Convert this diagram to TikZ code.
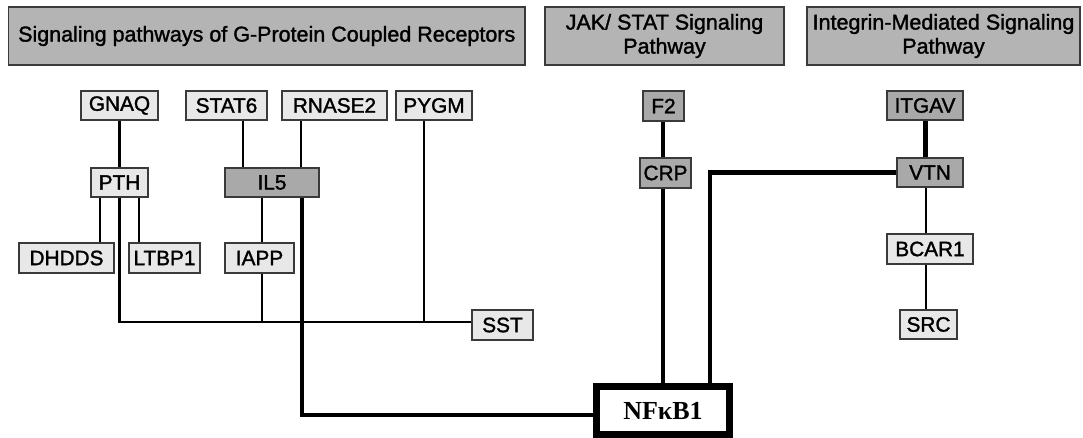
\documentclass[tikz,border=0pt]{standalone}
\usepackage{fontspec}
\setmainfont{Liberation Sans}
\newfontfamily\heavysans{Liberation Sans}[FakeBold=1.5]
\newfontfamily\serifbold{Liberation Serif}
\usetikzlibrary{backgrounds}
\definecolor{lightbox}{HTML}{E8E8E8}
\definecolor{darkbox}{HTML}{A9A9A9}
\definecolor{headfill}{HTML}{B4B4B4}
\definecolor{edgegray}{HTML}{3A3A3A}
\tikzset{
  gene/.style={draw=edgegray, line width=1.2pt, fill=lightbox, inner sep=0pt,
    minimum height=29pt, font=\heavysans\fontsize{20.8}{22}\selectfont},
  hub/.style={gene, fill=darkbox},
  header/.style={draw=edgegray, line width=1.5pt, fill=headfill, inner sep=0pt,
    minimum height=58pt, align=center, font=\heavysans\fontsize{21.5}{24}\selectfont},
  thin/.style={line width=2.2pt, black},
  thick/.style={line width=4.8pt, black},
}
\begin{document}
\begin{tikzpicture}[x=1pt, y=-1pt]
\useasboundingbox (0,0) rectangle (1083,437);

% pathway headers
\node[header, minimum width=516.5pt] (hGPCR) at (266.75,36) {Signaling pathways of G-Protein Coupled Receptors};
\node[header, minimum width=239pt] (hJAK) at (664.5,36) {JAK/ STAT Signaling\\Pathway};
\node[header, minimum width=273pt] (hINT) at (943.5,36) {Integrin-Mediated Signaling\\Pathway};

% GPCR genes
\node[gene, minimum width=77pt] (GNAQ) at (119.5,105.5) {GNAQ};
\node[gene, minimum width=81pt] (STAT6) at (226.5,105.5) {STAT6};
\node[gene, minimum width=105pt] (RNASE2) at (334.5,105.5) {RNASE2};
\node[gene, minimum width=76pt] (PYGM) at (434,105.5) {PYGM};
\node[gene, minimum width=57pt] (PTH) at (119.5,182.5) {PTH};
\node[hub, minimum width=94pt] (IL5) at (272,182.5) {IL5};
\node[gene, minimum width=95pt, minimum height=30pt] (DHDDS) at (66.5,258) {DHDDS};
\node[gene, minimum width=71pt, minimum height=30pt] (LTBP1) at (164.5,258) {LTBP1};
\node[gene, minimum width=69pt, minimum height=30pt] (IAPP) at (259.5,258) {IAPP};
\node[gene, minimum width=61pt, minimum height=30pt] (SST) at (502.5,325) {SST};

% JAK/STAT genes
\node[hub, minimum width=41pt, minimum height=30pt] (F2) at (663.5,106) {F2};
\node[hub, minimum width=51pt, minimum height=30pt] (CRP) at (665.5,173) {CRP};

% integrin genes
\node[hub, minimum width=76pt] (ITGAV) at (925,105.5) {ITGAV};
\node[hub, minimum width=66pt] (VTN) at (930,172.5) {VTN};
\node[gene, minimum width=86pt, minimum height=30pt] (BCAR1) at (930,249) {BCAR1};
\node[gene, minimum width=57pt] (SRC) at (928.5,324.5) {SRC};

% central node
\node[draw=black, line width=7pt, fill=white, inner sep=0pt,
  minimum width=133pt, minimum height=48pt,
  font=\serifbold\bfseries\fontsize{26}{28}\selectfont] (NFKB1) at (663,410.5) {NFκB1};

% columns of the vertical links
\coordinate (cDH) at (100,0);
\coordinate (cLT) at (139,0);
\coordinate (cPT) at (119.5,0);
\coordinate (cST) at (243,0);
\coordinate (cRN) at (301,0);
\coordinate (cIL) at (302,0);
\coordinate (cIA) at (262,0);
\coordinate (cPY) at (424,0);
\coordinate (cJK) at (663,0);
\coordinate (cVT) at (710,0);
\coordinate (cIN) at (925.7,0);
\coordinate (bus) at (0,322);
\coordinate (low) at (0,415);

\begin{scope}[on background layer]
  % GPCR links
  \draw[thin] (GNAQ.south -| cPT) -- (PTH.north -| cPT);
  \draw[thin] (PTH.south -| cDH) -- (DHDDS.north -| cDH);
  \draw[thin] (PTH.south -| cLT) -- (LTBP1.north -| cLT);
  \draw[thin] (PTH.south -| cPT) -- (bus -| cPT) -- (bus -| SST.west);
  \draw[thin] (STAT6.south -| cST) -- (IL5.north -| cST);
  \draw[thin] (RNASE2.south -| cRN) -- (IL5.north -| cRN);
  \draw[thin] (IL5.south -| cIA) -- (IAPP.north -| cIA);
  \draw[thin] (IAPP.south -| cIA) -- (bus -| cIA);
  \draw[thin] (PYGM.south -| cPY) -- (bus -| cPY);
  \draw[thick] (IL5.south -| cIL) -- (low -| cIL) -- (low -| NFKB1.west);
  % JAK/STAT links
  \draw[thick] (F2.south -| cJK) -- (CRP.north -| cJK);
  \draw[thick] (CRP.south -| cJK) -- (NFKB1.north -| cJK);
  % integrin links
  \draw[thick] (ITGAV.south -| cIN) -- (VTN.north -| cIN);
  \draw[thick] (VTN.west) -- (VTN.west -| cVT) -- (NFKB1.north -| cVT);
  \draw[thin] (VTN.south -| cIN) -- (BCAR1.north -| cIN);
  \draw[thin] (BCAR1.south -| cIN) -- (SRC.north -| cIN);
\end{scope}
\end{tikzpicture}
\end{document}
